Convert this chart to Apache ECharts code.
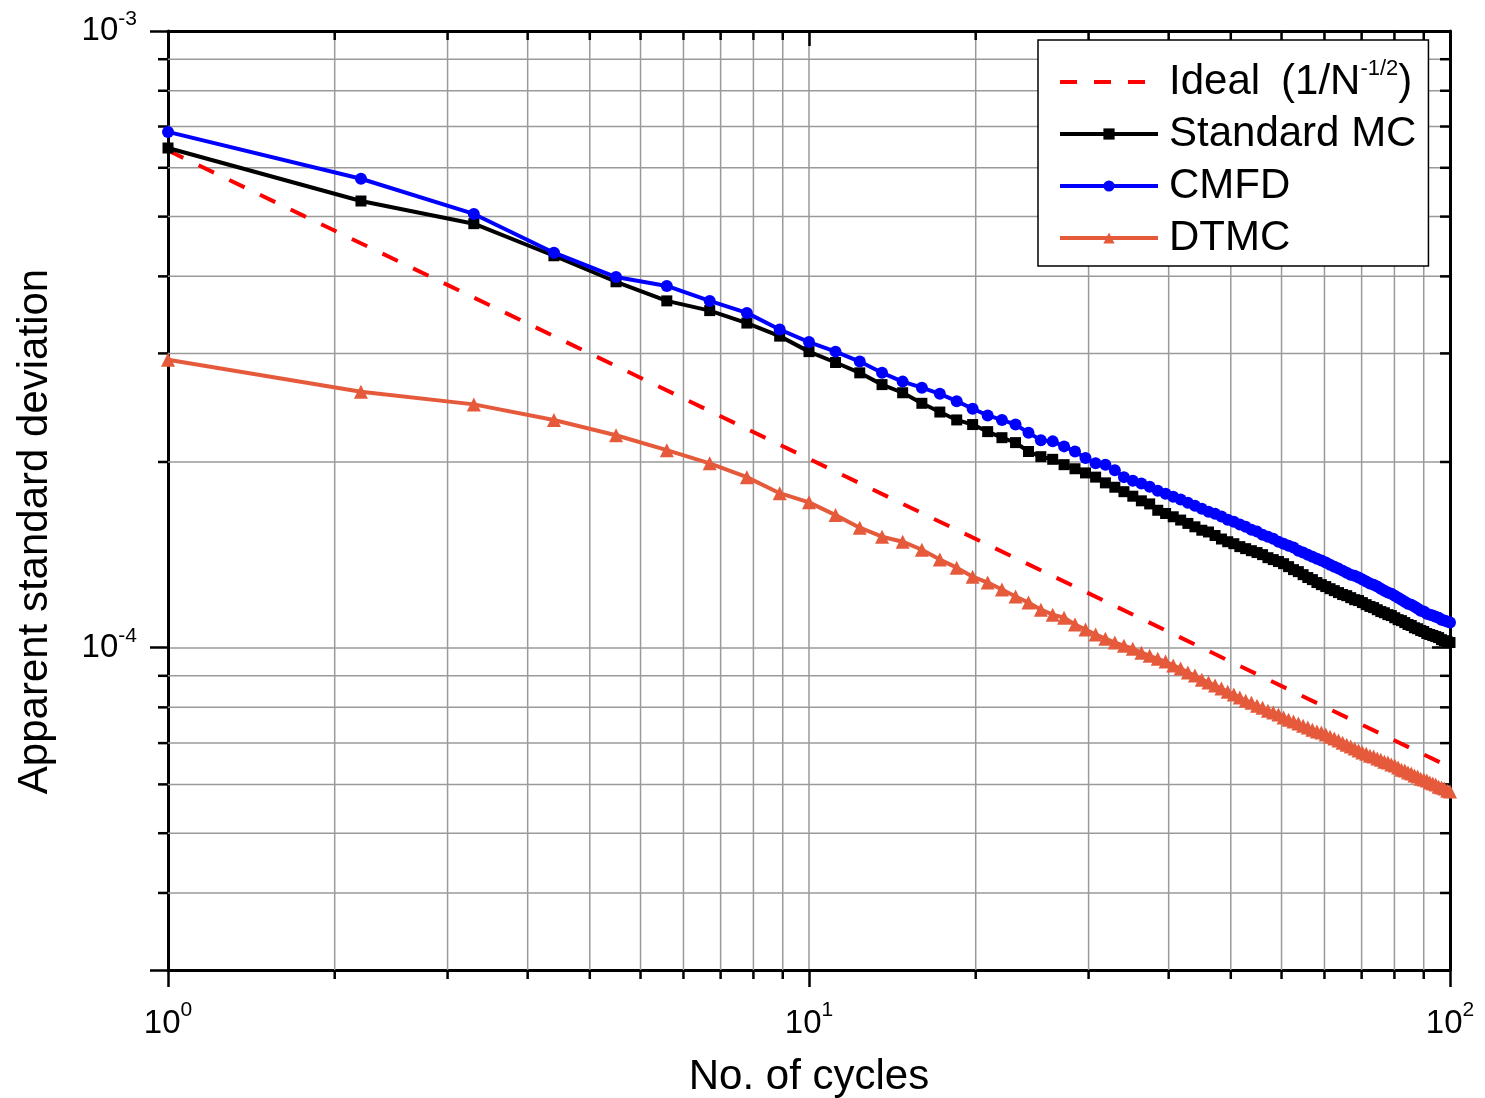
<!DOCTYPE html>
<html>
<head>
<meta charset="utf-8">
<script src="https://cdn.jsdelivr.net/npm/echarts@6.0.0/dist/echarts.min.js"></script>
<style>
  html, body { margin: 0; padding: 0; background: #fff; }
  #chart { width: 1485px; height: 1098px; }
</style>
</head>
<body>
<div id="chart"></div>
<script>
// ---------------- data ----------------
const cycles = Array.from({ length: 100 }, (_, i) => i + 1);

const standardMC = [
  6.46e-4, 5.30e-4, 4.87e-4, 4.32e-4, 3.92e-4, 3.65e-4, 3.52e-4, 3.36e-4, 3.20e-4, 3.02e-4,
  2.90e-4, 2.79e-4, 2.67e-4, 2.59e-4, 2.49e-4, 2.41e-4, 2.34e-4, 2.30e-4, 2.24e-4, 2.19e-4,
  2.15e-4, 2.08e-4, 2.04e-4, 2.02e-4, 1.98e-4, 1.95e-4, 1.92e-4, 1.89e-4, 1.85e-4, 1.82e-4,
  1.79e-4, 1.76e-4, 1.73e-4, 1.71e-4, 1.67e-4, 1.65e-4, 1.63e-4, 1.61e-4, 1.59e-4, 1.57e-4,
  1.55e-4, 1.54e-4, 1.52e-4, 1.50e-4, 1.485e-4, 1.474e-4, 1.458e-4, 1.447e-4, 1.436e-4, 1.426e-4,
  1.415e-4, 1.399e-4, 1.389e-4, 1.379e-4, 1.368e-4, 1.353e-4, 1.338e-4, 1.328e-4, 1.313e-4, 1.299e-4,
  1.289e-4, 1.275e-4, 1.265e-4, 1.256e-4, 1.246e-4, 1.237e-4, 1.228e-4, 1.219e-4, 1.214e-4, 1.205e-4,
  1.196e-4, 1.192e-4, 1.183e-4, 1.174e-4, 1.166e-4, 1.161e-4, 1.152e-4, 1.144e-4, 1.139e-4, 1.131e-4,
  1.127e-4, 1.118e-4, 1.110e-4, 1.106e-4, 1.098e-4, 1.090e-4, 1.086e-4, 1.077e-4, 1.073e-4, 1.066e-4,
  1.062e-4, 1.054e-4, 1.050e-4, 1.046e-4, 1.042e-4, 1.038e-4, 1.030e-4, 1.026e-4, 1.022e-4, 1.019e-4
];

const cmfd = [
  6.86e-4, 5.76e-4, 5.05e-4, 4.37e-4, 3.99e-4, 3.86e-4, 3.65e-4, 3.49e-4, 3.28e-4, 3.13e-4,
  3.02e-4, 2.91e-4, 2.79e-4, 2.70e-4, 2.64e-4, 2.58e-4, 2.51e-4, 2.44e-4, 2.38e-4, 2.34e-4,
  2.30e-4, 2.23e-4, 2.17e-4, 2.16e-4, 2.12e-4, 2.08e-4, 2.03e-4, 1.99e-4, 1.98e-4, 1.94e-4,
  1.89e-4, 1.865e-4, 1.845e-4, 1.824e-4, 1.797e-4, 1.777e-4, 1.757e-4, 1.738e-4, 1.718e-4, 1.699e-4,
  1.680e-4, 1.661e-4, 1.649e-4, 1.631e-4, 1.612e-4, 1.600e-4, 1.583e-4, 1.571e-4, 1.553e-4, 1.542e-4,
  1.524e-4, 1.513e-4, 1.502e-4, 1.485e-4, 1.474e-4, 1.463e-4, 1.453e-4, 1.436e-4, 1.426e-4, 1.415e-4,
  1.404e-4, 1.394e-4, 1.384e-4, 1.374e-4, 1.363e-4, 1.353e-4, 1.343e-4, 1.333e-4, 1.323e-4, 1.313e-4,
  1.308e-4, 1.299e-4, 1.289e-4, 1.280e-4, 1.270e-4, 1.265e-4, 1.256e-4, 1.246e-4, 1.237e-4, 1.228e-4,
  1.223e-4, 1.214e-4, 1.205e-4, 1.196e-4, 1.187e-4, 1.178e-4, 1.174e-4, 1.166e-4, 1.157e-4, 1.148e-4,
  1.144e-4, 1.135e-4, 1.131e-4, 1.127e-4, 1.122e-4, 1.118e-4, 1.110e-4, 1.106e-4, 1.102e-4, 1.098e-4
];

const dtmc = [
  2.93e-4, 2.60e-4, 2.48e-4, 2.34e-4, 2.21e-4, 2.09e-4, 1.99e-4, 1.89e-4, 1.78e-4, 1.72e-4,
  1.64e-4, 1.565e-4, 1.513e-4, 1.485e-4, 1.441e-4, 1.389e-4, 1.348e-4, 1.303e-4, 1.275e-4, 1.242e-4,
  1.210e-4, 1.183e-4, 1.152e-4, 1.131e-4, 1.118e-4, 1.090e-4, 1.070e-4, 1.050e-4, 1.034e-4, 1.019e-4,
  1.007e-4, 9.96e-5, 9.81e-5, 9.70e-5, 9.59e-5, 9.49e-5, 9.35e-5, 9.25e-5, 9.11e-5, 9.01e-5,
  8.87e-5, 8.78e-5, 8.68e-5, 8.58e-5, 8.48e-5, 8.39e-5, 8.30e-5, 8.20e-5, 8.14e-5, 8.05e-5,
  7.99e-5, 7.90e-5, 7.85e-5, 7.79e-5, 7.70e-5, 7.64e-5, 7.59e-5, 7.53e-5, 7.47e-5, 7.42e-5,
  7.36e-5, 7.31e-5, 7.28e-5, 7.23e-5, 7.17e-5, 7.12e-5, 7.07e-5, 7.01e-5, 6.96e-5, 6.91e-5,
  6.86e-5, 6.81e-5, 6.76e-5, 6.73e-5, 6.68e-5, 6.66e-5, 6.61e-5, 6.58e-5, 6.53e-5, 6.51e-5,
  6.46e-5, 6.44e-5, 6.39e-5, 6.34e-5, 6.32e-5, 6.27e-5, 6.25e-5, 6.20e-5, 6.18e-5, 6.13e-5,
  6.11e-5, 6.09e-5, 6.04e-5, 6.02e-5, 6.00e-5, 5.95e-5, 5.93e-5, 5.91e-5, 5.86e-5, 5.84e-5
];

const idealX = [1, 100];
const idealY = [6.4e-4, 6.4e-5];

// axis ranges and minor tick / grid positions (as drawn in the reference)
const xRange = [1, 100];
const yRange = [3e-5, 1e-3];
const minorXTicks = [1.82, 2.73, 3.64, 4.55, 5.46, 6.37, 7.28, 8.19, 9.1,
                     18.2, 27.3, 36.4, 45.5, 54.6, 63.7, 72.8, 81.9, 91];
const minorYTicks = [4e-5, 5e-5, 6e-5, 7e-5, 8e-5, 9e-5,
                     2e-4, 3e-4, 4e-4, 5e-4, 6e-4, 7e-4, 8e-4, 9e-4];

const seriesNames = ['Ideal', 'Standard MC', 'CMFD', 'DTMC'];

// ---------------- styling ----------------
const FONT = "'Liberation Sans', Arial, Helvetica, sans-serif";
const GRID_COLOR = '#9a9a9a';
const GRID_W = 1.5;
const AXIS_W = 3;
const TICK_W = 2.5;
const MAJOR_LEN = 17;
const MINOR_LEN = 9;
const LINE_W = 4;

function powLabel(v) {
  const l = Math.log10(v);
  const e = Math.round(l);
  if (Math.abs(l - e) > 1e-6) return '';
  return '{b|10}{s|' + e + '}';
}

const pair = (xs, ys) => xs.map((x, i) => [x, ys[i]]);

const chart = echarts.init(document.getElementById('chart'), null, { renderer: 'canvas' });

const axisLineStyle = { show: true, onZero: false, lineStyle: { color: '#000', width: AXIS_W } };

const option = {
  backgroundColor: '#fff',
  animation: false,
  grid: { left: 168, right: 35, top: 31, bottom: 128, containLabel: false, outerBoundsMode: 'none' },
  legend: {
    data: [
      { name: seriesNames[0], itemStyle: { opacity: 0 } },
      seriesNames[1], seriesNames[2], seriesNames[3]
    ],
    orient: 'vertical',
    left: 1038,
    top: 40,
    itemWidth: 98,
    itemHeight: 14,
    itemGap: 4,
    padding: [18, 12, 4, 20],
    backgroundColor: '#fff',
    borderColor: '#000',
    borderWidth: 1.5,
    borderRadius: 0,
    selectedMode: false,
    lineStyle: { width: LINE_W },
    formatter: n => n === 'Ideal' ? '{a|Ideal\u2002(1/N}{s|-1/2}{a|)}' : '{a|' + n + '}',
    textStyle: {
      fontFamily: FONT, fontSize: 42, lineHeight: 48, color: '#000', padding: [0, 0, 0, 6],
      rich: {
        a: { fontFamily: FONT, fontSize: 42, lineHeight: 48, color: '#000' },
        s: { fontFamily: FONT, fontSize: 22, lineHeight: 22, verticalAlign: 'top', color: '#000' }
      }
    }
  },
  xAxis: [
    {
      type: 'log', logBase: 10, min: xRange[0], max: xRange[1], position: 'bottom',
      name: 'No. of cycles', nameLocation: 'middle', nameGap: 86,
      nameTextStyle: { fontFamily: FONT, fontSize: 42, color: '#000' },
      axisLine: axisLineStyle,
      axisTick: { show: true, inside: false, length: MAJOR_LEN, lineStyle: { color: '#000', width: TICK_W } },
      axisLabel: {
        formatter: powLabel, margin: 30,
        rich: {
          b: { fontFamily: FONT, fontSize: 33, lineHeight: 48, color: '#000' },
          s: { fontFamily: FONT, fontSize: 21, lineHeight: 21, verticalAlign: 'top', color: '#000' }
        }
      },
      splitLine: { show: true, lineStyle: { color: GRID_COLOR, width: GRID_W } },
      minorTick: { show: false }
    },
    {
      type: 'log', logBase: 10, min: xRange[0], max: xRange[1], position: 'top',
      axisLine: axisLineStyle,
      axisTick: { show: true, inside: true, length: MAJOR_LEN - 2, lineStyle: { color: '#000', width: TICK_W } },
      axisLabel: { show: false },
      splitLine: { show: false }
    }
  ],
  yAxis: [
    {
      type: 'log', logBase: 10, min: yRange[0], max: yRange[1], position: 'left',
      name: 'Apparent standard deviation', nameLocation: 'middle', nameGap: 112,
      nameTextStyle: { fontFamily: FONT, fontSize: 42, color: '#000', padding: [0, 62, 0, 0] },
      axisLine: axisLineStyle,
      axisTick: { show: true, inside: false, length: MAJOR_LEN + 1, lineStyle: { color: '#000', width: TICK_W } },
      axisLabel: {
        formatter: powLabel, margin: 31,
        rich: {
          b: { fontFamily: FONT, fontSize: 33, lineHeight: 44, color: '#000' },
          s: { fontFamily: FONT, fontSize: 21, lineHeight: 21, verticalAlign: 'top', color: '#000' }
        }
      },
      splitLine: { show: true, lineStyle: { color: GRID_COLOR, width: GRID_W } }
    },
    {
      type: 'log', logBase: 10, min: yRange[0], max: yRange[1], position: 'right',
      axisLine: axisLineStyle,
      axisTick: { show: true, inside: true, length: MAJOR_LEN + 1, lineStyle: { color: '#000', width: TICK_W } },
      axisLabel: { show: false },
      splitLine: { show: false }
    }
  ],
  series: [
    {
      type: 'custom', name: 'xMinor', silent: true, z: 1, clip: false,
      xAxisIndex: 0, yAxisIndex: 0,
      data: minorXTicks.map(v => [v, yRange[0]]),
      renderItem: (params, api) => {
        const x = api.value(0);
        const pb = api.coord([x, yRange[0]]);
        const pt = api.coord([x, yRange[1]]);
        return {
          type: 'group',
          children: [
            { type: 'line', shape: { x1: pb[0], y1: pt[1], x2: pb[0], y2: pb[1] }, style: { stroke: GRID_COLOR, lineWidth: GRID_W } },
            { type: 'line', shape: { x1: pb[0], y1: pb[1], x2: pb[0], y2: pb[1] + MINOR_LEN }, style: { stroke: '#000', lineWidth: TICK_W } },
            { type: 'line', shape: { x1: pb[0], y1: pt[1], x2: pb[0], y2: pt[1] + MINOR_LEN }, style: { stroke: '#000', lineWidth: TICK_W } }
          ]
        };
      }
    },
    {
      type: 'custom', name: 'yMinor', silent: true, z: 1, clip: false,
      xAxisIndex: 0, yAxisIndex: 0,
      data: minorYTicks.map(v => [xRange[0], v]),
      renderItem: (params, api) => {
        const y = api.value(1);
        const pl = api.coord([xRange[0], y]);
        const pr = api.coord([xRange[1], y]);
        return {
          type: 'group',
          children: [
            { type: 'line', shape: { x1: pl[0], y1: pl[1], x2: pr[0], y2: pl[1] }, style: { stroke: GRID_COLOR, lineWidth: GRID_W } },
            { type: 'line', shape: { x1: pl[0] - MINOR_LEN - 1, y1: pl[1], x2: pl[0], y2: pl[1] }, style: { stroke: '#000', lineWidth: TICK_W } },
            { type: 'line', shape: { x1: pr[0] - MINOR_LEN - 1, y1: pl[1], x2: pr[0], y2: pl[1] }, style: { stroke: '#000', lineWidth: TICK_W } }
          ]
        };
      }
    },
    {
      type: 'line', name: seriesNames[0], z: 3,
      data: pair(idealX, idealY),
      symbol: 'none', showSymbol: false,
      lineStyle: { color: '#ff0000', width: LINE_W, type: [17, 17] },
      itemStyle: { color: '#ff0000' }
    },
    {
      type: 'line', name: seriesNames[1], z: 4,
      data: pair(cycles, standardMC),
      symbol: 'rect', symbolSize: 11, showSymbol: true, showAllSymbol: true,
      lineStyle: { color: '#000000', width: LINE_W },
      itemStyle: { color: '#000000' }
    },
    {
      type: 'line', name: seriesNames[2], z: 5,
      data: pair(cycles, cmfd),
      symbol: 'circle', symbolSize: 12, showSymbol: true, showAllSymbol: true,
      lineStyle: { color: '#0000ff', width: LINE_W },
      itemStyle: { color: '#0000ff' }
    },
    {
      type: 'line', name: seriesNames[3], z: 6,
      data: pair(cycles, dtmc),
      symbol: 'triangle', symbolSize: 14, showSymbol: true, showAllSymbol: true,
      lineStyle: { color: '#e65a3c', width: LINE_W },
      itemStyle: { color: '#e65a3c' }
    }
  ]
};

chart.setOption(option);
</script>
</body>
</html>
